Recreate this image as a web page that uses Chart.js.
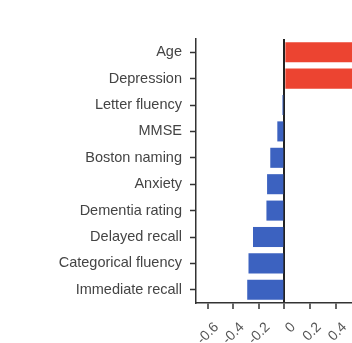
<!DOCTYPE html>
<html><head><meta charset="utf-8">
<script src="https://cdn.jsdelivr.net/npm/chart.js@4"></script>
<style>
html,body{margin:0;padding:0;overflow:hidden;background:#fff;width:352px;height:343px;}
#wrap{width:374px;height:343px;position:relative;}
</style></head>
<body><div id="wrap"><canvas id="c"></canvas></div>
<script>
const categories = ["Age","Depression","Letter fluency","MMSE","Boston naming","Anxiety","Dementia rating","Delayed recall","Categorical fluency","Immediate recall"];
const values = [0.62,0.58,-0.015,-0.055,-0.11,-0.135,-0.14,-0.245,-0.28,-0.29];
const tickValues = [-0.6,-0.4,-0.2,0,0.2,0.4,0.6];
const tickLabels = ["-0.6","-0.4","-0.2","0","0.2","0.4","0.6"];
const posColor = "#ec4431", negColor = "#3c62c0";

new Chart(document.getElementById('c'), {
  type: 'bar',
  data: { labels: categories, datasets: [{ data: values,
    backgroundColor: values.map(v => v >= 0 ? posColor : negColor),
    barPercentage: 0.76, categoryPercentage: 1.0 }] },
  options: {
    indexAxis: 'y', responsive: true, maintainAspectRatio: false, animation: false,
    layout: { padding: { top: 39, left: 0, right: 0, bottom: 0 } },
    plugins: { legend: { display: false }, tooltip: { enabled: false } },
    scales: {
      x: {
        min: -0.69, max: 0.7,
        afterBuildTicks: s => { s.ticks = tickValues.map(v => ({ value: v })); },
        afterFit: s => { s.height = 40; s.paddingLeft = 0; s.paddingRight = 0; },
        grid: { color: c => (c.tick && c.tick.value === 0) ? '#222' : 'rgba(0,0,0,0)', lineWidth: 2,
                drawTicks: true, tickLength: 6, tickColor: '#333', tickWidth: 1.5 },
        border: { display: true, color: '#333', width: 1.5 },
        ticks: { minRotation: 45, maxRotation: 45, padding: 10, labelOffset: 9, color: '#555',
                 font: { family: 'Liberation Sans', size: 14 },
                 callback: (v, i) => tickLabels[i] }
      },
      y: {
        afterFit: s => { s.width = 196; s.paddingTop = 0; s.paddingBottom = 0; },
        grid: { offset: false, drawOnChartArea: false, drawTicks: true, tickLength: 6, tickColor: '#333', tickWidth: 1.5 },
        border: { display: true, color: '#333', width: 1.5 },
        ticks: { padding: 8, color: '#444', font: { family: 'Liberation Sans', size: 14.5 } }
      }
    }
  }
});
</script></body></html>
